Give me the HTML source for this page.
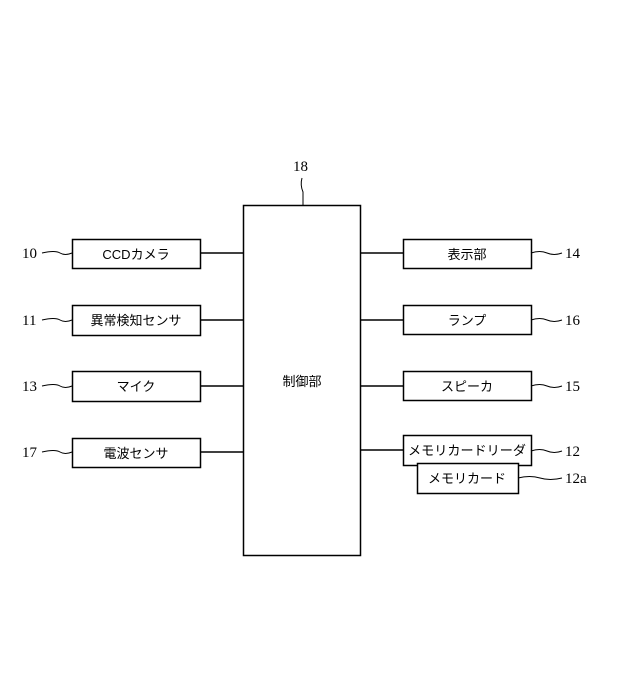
<!DOCTYPE html>
<html><head><meta charset="utf-8"><style>
body{margin:0;background:#fff;}
svg text{font-family:"Liberation Serif","Noto Serif CJK SC",serif;fill:#000;}
svg .j text{font-family:"Liberation Sans","Noto Sans CJK JP",sans-serif;font-size:13px;font-weight:normal;}
</style></head><body>
<svg width="622" height="693" viewBox="0 0 622 693" xmlns="http://www.w3.org/2000/svg">
<g fill="none" stroke="#000" stroke-width="1.5">
<rect x="243.5" y="205.5" width="117" height="350"/>
<rect x="72.5" y="239.5" width="128" height="29"/>
<rect x="72.5" y="305.5" width="128" height="30"/>
<rect x="72.5" y="371.5" width="128" height="30"/>
<rect x="72.5" y="438.5" width="128" height="29"/>
<rect x="403.5" y="239.5" width="128" height="29"/>
<rect x="403.5" y="305.5" width="128" height="29"/>
<rect x="403.5" y="371.5" width="128" height="29"/>
<rect x="403.5" y="435.5" width="128" height="30"/>
<rect x="417.5" y="463.5" width="101" height="30" fill="#fff"/>
<path d="M200 253H243M200 320H243M200 386H243M200 452H243M360 253H403M360 320H403M360 386H403M360 450H403"/>
<g stroke-width="1">
<path d="M303 205V192Q300 185 302 178"/>
<path d="M42 253Q55 250 60 253T72 253"/>
<path d="M42 320Q55 317 60 320T72 320"/>
<path d="M42 386Q55 383 60 386T72 386"/>
<path d="M42 452Q55 449 60 452T72 452"/>
<path d="M531 253Q540 250 547 253T562 253"/>
<path d="M531 320Q540 317 547 320T562 320"/>
<path d="M531 386Q540 383 547 386T562 386"/>
<path d="M531 451Q540 448 547 451T562 451"/>
<path d="M518 478Q530 475 540 478T562 478"/>
</g></g>
<g font-size="15">
<text x="293" y="171">18</text>
<text x="22" y="258">10</text><text x="22" y="325">11</text>
<text x="22" y="391">13</text><text x="22" y="457">17</text>
<text x="565" y="258">14</text><text x="565" y="325">16</text>
<text x="565" y="391">15</text><text x="565" y="456">12</text>
<text x="565" y="483">12a</text>
</g>
<g class="j" text-anchor="middle">
<text x="136" y="259">CCDカメラ</text>
<text x="136" y="325">異常検知センサ</text>
<text x="136" y="391">マイク</text>
<text x="136" y="458">電波センサ</text>
<text x="302" y="386">制御部</text>
<text x="467" y="259">表示部</text>
<text x="467" y="325">ランプ</text>
<text x="467" y="391">スピーカ</text>
<text x="467" y="455" textLength="118" lengthAdjust="spacingAndGlyphs">メモリカードリーダ</text>
<text x="467" y="483">メモリカード</text>
</g>
</svg>
</body></html>
